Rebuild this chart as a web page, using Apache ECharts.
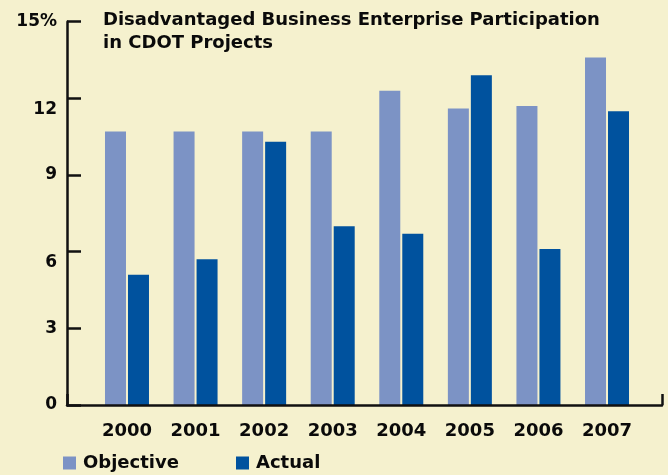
<!DOCTYPE html>
<html>
<head>
<meta charset="utf-8">
<script src="https://cdn.jsdelivr.net/npm/echarts@6/dist/echarts.min.js"></script>
<style>
html,body{margin:0;padding:0;background:#F5F1CE;}
#c{width:668px;height:475px;}
</style>
</head>
<body>
<div id="c"></div>
<script>
const years = ['2000','2001','2002','2003','2004','2005','2006','2007'];
const objective = [10.7, 10.7, 10.7, 10.7, 12.3, 11.6, 11.7, 13.6];
const actual = [5.1, 5.7, 10.3, 7.0, 6.7, 12.9, 6.1, 11.5];
const yTicks = [0, 3, 6, 9, 12, 15];
const titleText = 'Disadvantaged Business Enterprise Participation\nin CDOT Projects';

const FONT = 'DejaVu Sans';
const chart = echarts.init(document.getElementById('c'));
chart.setOption({
  backgroundColor: '#F5F1CE',
  animation: false,
  title: {
    text: titleText,
    left: 103, top: 9, padding: 0,
    textStyle: {fontFamily: FONT, fontWeight: 'bold', fontSize: 18, lineHeight: 23, color: '#0a0a0a'}
  },
  legend: [
    {data: ['Objective'], left: 63, top: 454, padding: 0, itemWidth: 13, itemHeight: 13, icon: 'rect',
     textStyle: {fontFamily: FONT, fontWeight: 'bold', fontSize: 18, color: '#0a0a0a', padding: [0,0,0,2]}},
    {data: ['Actual'], left: 236, top: 454, padding: 0, itemWidth: 13, itemHeight: 13, icon: 'rect',
     textStyle: {fontFamily: FONT, fontWeight: 'bold', fontSize: 18, color: '#0a0a0a', padding: [0,0,0,2]}}
  ],
  grid: [
    {left: 92.7, right: 26.7, top: 21.7, bottom: 70},
    {left: 67, right: 6, top: 21.7, bottom: 70}
  ],
  xAxis: [
    {type: 'category', gridIndex: 0, data: years,
     axisLine: {show: false}, axisTick: {show: false},
     axisLabel: {margin: 17, fontFamily: FONT, fontWeight: 'bold', fontSize: 18, color: '#0a0a0a'}},
    {type: 'value', gridIndex: 1, min: 0, max: 1, interval: 1, z: 5,
     axisLine: {show: true, lineStyle: {color: '#111', width: 2.5}},
     axisTick: {show: true, inside: true, length: 11, lineStyle: {color: '#111', width: 2.5}},
     axisLabel: {show: false}, splitLine: {show: false}}
  ],
  yAxis: [
    {type: 'value', gridIndex: 0, min: 0, max: 15, interval: 3, show: false, splitLine: {show: false}},
    {type: 'value', gridIndex: 1, min: 0, max: 15, interval: 3, z: 5,
     axisLine: {show: true, lineStyle: {color: '#111', width: 2.5}},
     axisTick: {show: true, inside: true, length: 14, lineStyle: {color: '#111', width: 2.5}},
     splitLine: {show: false},
     axisLabel: {margin: 10, fontFamily: FONT, fontWeight: 'bold', fontSize: 17, color: '#0a0a0a',
       formatter: function (v) {
         if (v === 15) return '15%';
         if (v === 12 || v === 6) return '{low|' + v + '}';
         return String(v);
       },
       rich: {low: {fontFamily: FONT, fontWeight: 'bold', fontSize: 17, color: '#0a0a0a', padding: [22, 0, 0, 0]}}
     }}
  ],
  series: [
    {name: 'Objective', type: 'bar', xAxisIndex: 0, yAxisIndex: 0, data: objective,
     barWidth: 21, barGap: '9.5%', itemStyle: {color: '#7C93C5'}},
    {name: 'Actual', type: 'bar', xAxisIndex: 0, yAxisIndex: 0, data: actual,
     barWidth: 21, itemStyle: {color: '#00529E'}}
  ]
});
</script>
</body>
</html>
